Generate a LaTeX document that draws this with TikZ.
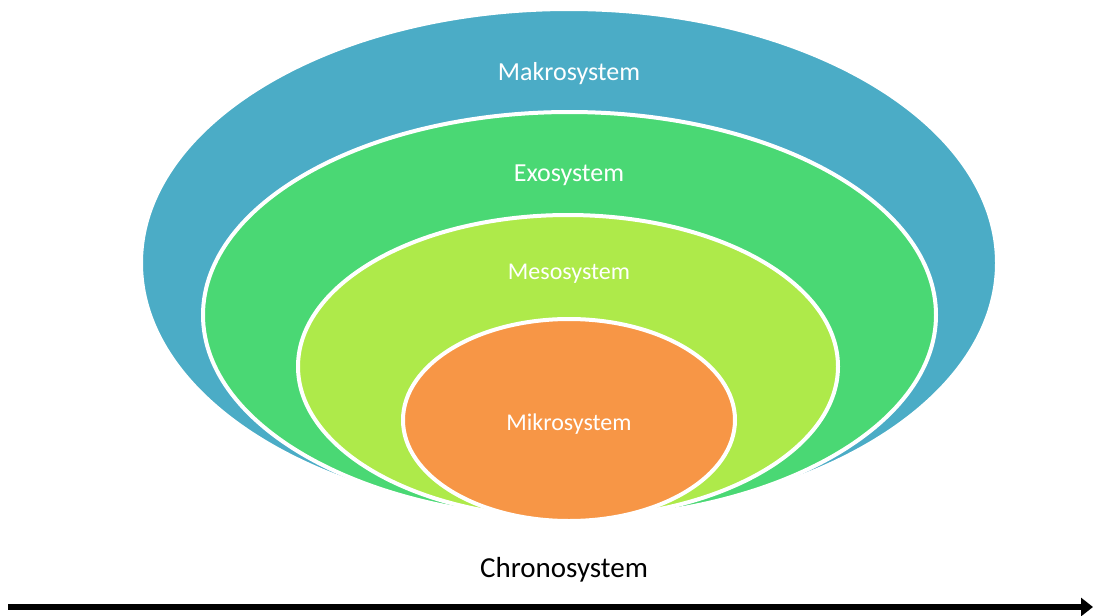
\documentclass[tikz,border=0pt]{standalone}
\usepackage{fontspec}
\setmainfont{Carlito}
\usetikzlibrary{arrows.meta}
\definecolor{makroblau}{RGB}{75,172,198}
\definecolor{exogruen}{RGB}{74,216,116}
\definecolor{mesogruen}{RGB}{174,234,74}
\definecolor{mikroorange}{RGB}{247,150,70}
\tikzset{
	schale/.style={line width=4pt, draw=white},
	beschriftung/.style={text=white, inner sep=0pt}
}
\begin{document}
\begin{tikzpicture}[x=1pt, y=-1pt]
	\useasboundingbox (0, 0) rectangle (1093, 616);
	% Systeme von aussen nach innen
	\filldraw[schale, fill=makroblau] (569, 263) ellipse [x radius=428, y radius=254];
	\node[beschriftung] (makro) at (569, 74) {\fontsize{26}{30}\selectfont Makrosystem};
	\filldraw[schale, fill=exogruen] (569.5, 315) ellipse [x radius=366.5, y radius=203];
	\node[beschriftung] (exo) at (569, 175) {\fontsize{26}{30}\selectfont Exosystem};
	\filldraw[schale, fill=mesogruen] (568, 366.5) ellipse [x radius=270, y radius=151.5];
	\node[beschriftung] (meso) at (569, 274) {\fontsize{24}{28}\selectfont Mesosystem};
	\filldraw[schale, fill=mikroorange] (569, 420) ellipse [x radius=166, y radius=101];
	\node[beschriftung] (mikro) at (569, 424) {\fontsize{24}{28}\selectfont Mikrosystem};

	% Zeitachse
	\node[inner sep=0pt] (chrono) at (564, 570) {\fontsize{29}{34}\selectfont Chronosystem};
	\coordinate (anfang) at (8, 607);
	\coordinate (ende) at (1093, 607);
	\draw[line width=6pt, -{Triangle[length=12pt, width=18pt]}] (anfang) -- (ende);
\end{tikzpicture}
\end{document}
